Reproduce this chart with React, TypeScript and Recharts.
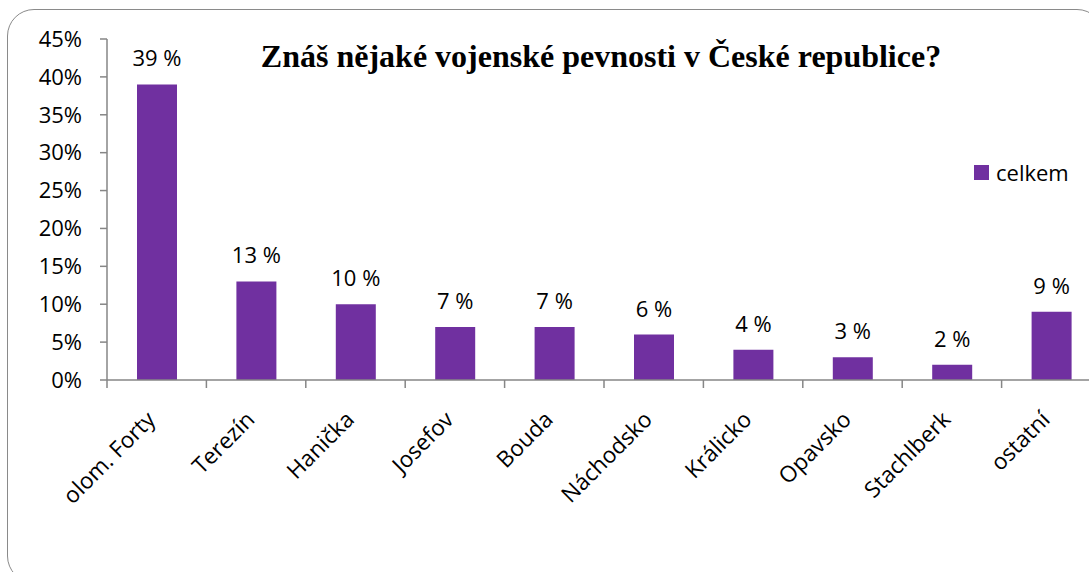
import React from 'react';
import { BarChart, Bar, XAxis, YAxis, LabelList, Legend } from 'recharts';

const categories = ['olom. Forty', 'Terezín', 'Hanička', 'Josefov', 'Bouda', 'Náchodsko', 'Králicko', 'Opavsko', 'Stachlberk', 'ostatní'];
const celkem = [39, 13, 10, 7, 7, 6, 4, 3, 2, 9];
const yTicks = [0, 5, 10, 15, 20, 25, 30, 35, 40, 45];

const data = categories.map((name, i) => ({ name, celkem: celkem[i] }));

const FONT = '"Open Sans", sans-serif';
const AXIS = '#868686';
const PURPLE = '#7030A0';

// label rotated -45deg, plus a tick mark on the left edge of each category band
const AngledTick = (props: any) => {
  const { x, y, payload } = props;
  const edge = x - (payload.offset || 0);
  return (
    <g>
      <line x1={edge} x2={edge} y1={y - 8} y2={y} stroke={AXIS} strokeWidth={1.5} />
      <g transform={`translate(${x},${y + 33}) rotate(-45)`}>
        <text x={0} y={0} textAnchor="end" fontSize={22.5} fontFamily={FONT} fill="#000">
          {payload.value}
        </text>
      </g>
    </g>
  );
};

const LegendBox = () => (
  <div style={{ display: 'flex', alignItems: 'center', fontFamily: FONT, fontSize: 22, color: '#000' }}>
    <span style={{ display: 'inline-block', width: 15, height: 15, background: PURPLE, marginRight: 7 }} />
    <span>celkem</span>
  </div>
);

export default function App() {
  return (
    <div style={{ position: 'absolute', left: 0, top: 0, width: 1089, height: 572, overflow: 'hidden', background: '#fff' }}>
      <div
        style={{
          position: 'absolute', left: 7, top: 9, width: 1097, height: 574,
          border: '1.5px solid #8a8a8a', borderRadius: 27, boxSizing: 'border-box',
        }}
      />
      <div
        style={{
          position: 'absolute', left: 0, top: 38, width: 1202, textAlign: 'center', lineHeight: 'normal',
          fontFamily: '"Liberation Serif", "Times New Roman", serif', fontWeight: 'bold', fontSize: 32, color: '#000',
        }}
      >
        Znáš nějaké vojenské pevnosti v České republice?
      </div>
      <BarChart width={1110} height={572} data={data} margin={{ top: 39, right: 9, bottom: 42, left: 27 }}>
        <XAxis
          dataKey="name"
          height={150}
          interval={0}
          tickLine={false}
          tickSize={8}
          tickMargin={0}
          axisLine={{ stroke: AXIS, strokeWidth: 1.5 }}
          tick={<AngledTick />}
        />
        <YAxis
          width={80}
          domain={[0, 45]}
          ticks={yTicks}
          interval={0}
          tickFormatter={(v: number) => `${v}%`}
          tickSize={7}
          tickMargin={18}
          axisLine={{ stroke: AXIS, strokeWidth: 1.5 }}
          tickLine={{ stroke: AXIS, strokeWidth: 1.5 }}
          tick={{ fill: '#000', fontSize: 22, fontFamily: FONT }}
        />
        <Legend
          layout="vertical"
          verticalAlign="middle"
          align="center"
          content={<LegendBox />}
          wrapperStyle={{ position: 'absolute', left: 974, top: 157, width: 120 }}
        />
        <Bar dataKey="celkem" fill={PURPLE} barSize={40} isAnimationActive={false}>
          <LabelList
            dataKey="celkem"
            position="top"
            offset={18}
            formatter={(v: any) => `${v} %`}
            style={{ fill: '#000', fontSize: 22, fontFamily: FONT }}
          />
        </Bar>
      </BarChart>
    </div>
  );
}
